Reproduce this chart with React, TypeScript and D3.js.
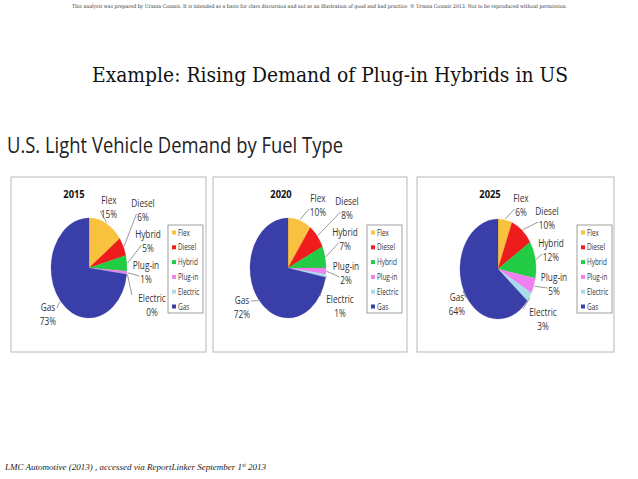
import * as d3 from 'd3';

const years = ['2015', '2020', '2025'];
const fuels = ['Flex', 'Diesel', 'Hybrid', 'Plug-in', 'Electric', 'Gas'];
const share2015 = [15, 6, 5, 1, 0, 73];
const share2020 = [10, 8, 7, 2, 1, 72];
const share2025 = [6, 10, 12, 5, 3, 64];
const shares = [share2015, share2020, share2025];
const fuelColors = ['#f9c23e', '#ee1c1c', '#22cc44', '#ef80ef', '#a8dce8', '#3a3ea8'];

// layout of the three panels (pie centre, legend box, label offsets from the centre)
const panels = [
  { x: 11, w: 195, cx: 89, cy: 268, yearX: 74, legendX: 168,
    labels: [[20, -68], [54, -65], [59, -34], [57, -3], [63, 30], [-41, 39]] },
  { x: 213, w: 194, cx: 288, cy: 268, yearX: 281, legendX: 367,
    labels: [[30, -70], [59, -67], [57, -36], [58, -2], [52, 31], [-46, 32]] },
  { x: 417, w: 197, cx: 498, cy: 269, yearX: 490, legendX: 577,
    labels: [[23, -71], [49, -58], [53, -26], [56, 8], [45, 43], [-41, 28]] },
];

const rx = 38;
const ry = 50;
const sx = rx / ry;
const fontSans = "'Open Sans', 'Noto Sans', sans-serif";

function Panel({ idx }: { idx: number }) {
  const p = panels[idx];
  const values = shares[idx];
  const pie = d3.pie<number>().sort(null).value((d) => d);
  const arcs = pie(values);
  const arc = d3.arc<d3.PieArcDatum<number>>().innerRadius(0).outerRadius(ry);
  const charW = 11 * 0.55 * 0.75;

  return (
    <g>
      <rect x={p.x} y={177} width={p.w} height={175} fill="#fff" stroke="#b8b8b8" strokeWidth={1} />
      <text
        transform={`translate(${p.yearX},198) scale(0.85,1)`}
        textAnchor="middle"
        fontFamily={fontSans}
        fontWeight="bold"
        fontSize={11}
        fill="#111"
      >
        {years[idx]}
      </text>
      <g transform={`translate(${p.cx},${p.cy}) scale(${sx},1)`}>
        {arcs.map((a, i) => (
          <path key={i} d={arc(a) || ''} fill={fuelColors[i]} stroke={fuelColors[i]} strokeWidth={0.3} />
        ))}
      </g>
      {arcs.map((a, i) => {
        const [dx, dy] = p.labels[i];
        const lx = p.cx + dx;
        const ly = p.cy + dy;
        const mid = (a.startAngle + a.endAngle) / 2;
        const ex = p.cx + rx * 1.02 * Math.sin(mid);
        const ey = p.cy - ry * 1.02 * Math.cos(mid);
        const pct = `${values[i]}%`;
        let bx: number;
        let by: number;
        if (dx < 0) {
          bx = lx + (fuels[i].length * charW) / 2 + 2;
          by = ly + 1;
        } else if (dy > 20) {
          bx = lx - (fuels[i].length * charW) / 2 - 2;
          by = ly - 3;
        } else {
          bx = lx - (pct.length * charW) / 2 - 2;
          by = ly + 11;
        }
        const dist = Math.hypot(bx - ex, by - ey);
        return (
          <g key={i}>
            {dist > 5 && bx > ex - 40 && (
              <line x1={ex} y1={ey} x2={bx} y2={by} stroke="#555" strokeWidth={0.6} />
            )}
            <text
              transform={`translate(${lx},${ly + 4}) scale(0.75,1)`}
              textAnchor="middle"
              fontFamily={fontSans}
              fontSize={11}
              fill="#333"
            >
              {fuels[i]}
            </text>
            <text
              transform={`translate(${lx},${ly + 18}) scale(0.75,1)`}
              textAnchor="middle"
              fontFamily={fontSans}
              fontSize={11}
              fill="#333"
            >
              {pct}
            </text>
          </g>
        );
      })}
      <rect x={p.legendX} y={225} width={35} height={88} fill="#fff" stroke="#777" strokeWidth={0.7} />
      {fuels.map((f, i) => {
        const y = 233 + i * 14.8;
        return (
          <g key={f}>
            <rect x={p.legendX + 4} y={y - 2.5} width={4} height={4} fill={fuelColors[i]} />
            <text
              transform={`translate(${p.legendX + 10},${y + 2.5}) scale(0.75,1)`}
              fontFamily={fontSans}
              fontSize={8.5}
              fill="#333"
            >
              {f}
            </text>
          </g>
        );
      })}
    </g>
  );
}

export default function App() {
  return (
    <svg
      width={638}
      height={479}
      viewBox="0 0 638 479"
      style={{ position: 'absolute', left: 0, top: 0, background: '#fff' }}
    >
      <rect x={0} y={0} width={638} height={479} fill="#fff" />
      <text
        x={72}
        y={8}
        fontFamily="'DejaVu Serif', serif"
        fontSize={5.2}
        fill="#333"
        textLength={495}
        lengthAdjust="spacingAndGlyphs"
      >
        This analysis was prepared by Urania Coumis. It is intended as a basis for class discussion and not as an illustration of good and bad practice. © Urania Coumis 2013. Not to be reproduced without permission.
      </text>
      <text
        x={92}
        y={82}
        fontFamily="'DejaVu Serif', serif"
        fontSize={20}
        fill="#111"
        textLength={476}
        lengthAdjust="spacingAndGlyphs"
      >
        Example: Rising Demand of Plug-in Hybrids in US
      </text>
      <text
        x={7}
        y={153}
        fontFamily={fontSans}
        fontSize={21}
        fill="#222"
        textLength={336}
        lengthAdjust="spacingAndGlyphs"
      >
        U.S. Light Vehicle Demand by Fuel Type
      </text>
      {years.map((y, i) => (
        <Panel key={y} idx={i} />
      ))}
      <text x={5} y={470} fontFamily="'Liberation Serif', serif" fontStyle="italic" fontSize={9} fill="#222">
        LMC Automotive (2013) , accessed via ReportLinker September 1
        <tspan fontSize={5.5} dy={-3.5}>st</tspan>
        <tspan dy={3.5}> 2013</tspan>
      </text>
    </svg>
  );
}
